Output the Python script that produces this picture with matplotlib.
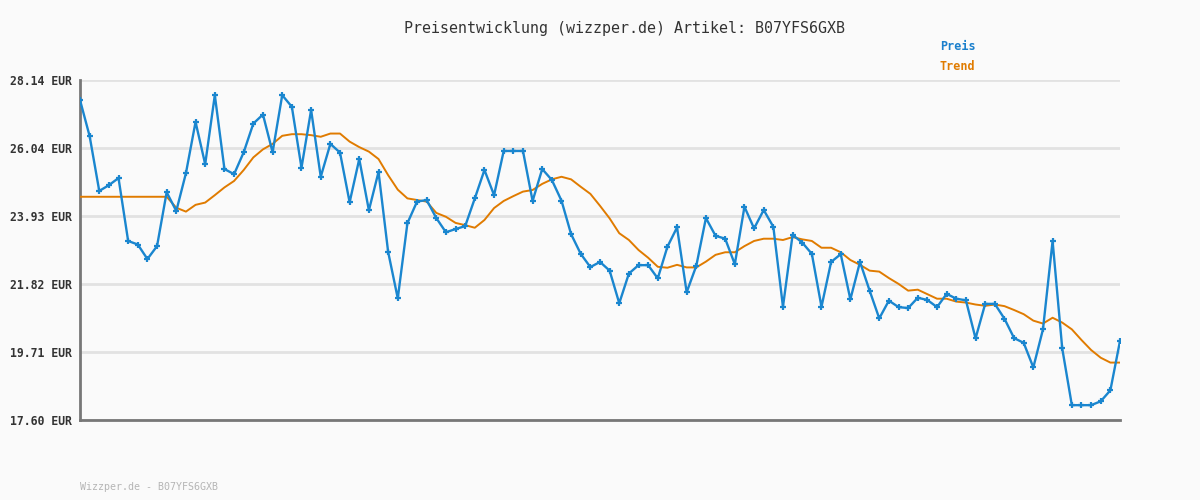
import numpy as np
import matplotlib
matplotlib.use("Agg")
from matplotlib import pyplot as plt

# price points (EUR)
preis = [27.52, 26.40, 24.70, 24.88, 25.10, 23.15, 23.04, 22.59, 22.99, 24.66,
         24.08, 25.25, 26.84, 25.53, 27.67, 25.38, 25.22, 25.90, 26.79, 27.07,
         25.90, 27.67, 27.31, 25.42, 27.21, 25.14, 26.16, 25.89, 24.35, 25.69,
         24.10, 25.29, 22.81, 21.37, 23.70, 24.37, 24.42, 23.86, 23.42, 23.52,
         23.61, 24.47, 25.35, 24.57, 25.94, 25.94, 25.94, 24.39, 25.38, 25.04,
         24.40, 23.36, 22.75, 22.34, 22.50, 22.23, 21.22, 22.14, 22.40, 22.40,
         21.99, 22.97, 23.57, 21.56, 22.38, 23.86, 23.31, 23.22, 22.43, 24.21,
         23.54, 24.11, 23.59, 21.11, 23.34, 23.10, 22.75, 21.11, 22.50, 22.74,
         21.34, 22.50, 21.61, 20.75, 21.30, 21.10, 21.07, 21.39, 21.32, 21.10,
         21.51, 21.36, 21.31, 20.13, 21.20, 21.20, 20.74, 20.14, 19.99, 19.23,
         20.41, 23.15, 19.82, 18.06, 18.06, 18.06, 18.18, 18.52, 20.05]

trend = [24.52, 24.52, 24.52, 24.52, 24.52, 24.52, 24.52, 24.52, 24.52, 24.52,
         24.18, 24.06, 24.27, 24.34, 24.57, 24.81, 25.01, 25.35, 25.74, 25.99,
         26.16, 26.41, 26.46, 26.46, 26.43, 26.38, 26.48, 26.48, 26.23, 26.06,
         25.92, 25.69, 25.19, 24.74, 24.47, 24.42, 24.37, 24.02, 23.90, 23.71,
         23.64, 23.56, 23.80, 24.17, 24.39, 24.54, 24.68, 24.73, 24.92, 25.06,
         25.14, 25.06, 24.83, 24.61, 24.24, 23.85, 23.39, 23.18, 22.87, 22.63,
         22.35, 22.32, 22.41, 22.33, 22.33, 22.51, 22.72, 22.80, 22.80, 22.99,
         23.15, 23.22, 23.22, 23.18, 23.27, 23.20, 23.15, 22.94, 22.94, 22.80,
         22.56, 22.41, 22.23, 22.20, 22.00, 21.82, 21.61, 21.64, 21.50, 21.36,
         21.36, 21.27, 21.24, 21.18, 21.14, 21.18, 21.13, 21.01, 20.88, 20.68,
         20.59, 20.77, 20.62, 20.41, 20.08, 19.77, 19.53, 19.38, 19.38]

yticks = [17.60, 19.71, 21.82, 23.93, 26.04, 28.14]
ylabels = ["%.2f EUR" % v for v in yticks]

artikel = "B07YFS6GXB"
bg = "#fafafa"
blau = "#1a86cf"
orange = "#e07b00"
mono = "DejaVu Sans Mono"

fig = plt.figure(figsize=(12, 5), dpi=100, facecolor=bg)
ax = fig.add_axes([80/1200, 80/500, 1040/1200, 340/500])
ax.set_facecolor(bg)

x = np.arange(len(preis))
ax.plot(x, trend, color=orange, lw=1.4, zorder=3)
ax.plot(x, preis, color=blau, lw=1.7, marker="+", ms=4, mew=1.6, zorder=4)

ax.set_xlim(0, len(preis) - 1)
ax.set_ylim(yticks[0], yticks[-1])
ax.set_yticks(yticks)
ax.set_yticklabels(ylabels, fontfamily=mono, fontsize=8.3, fontweight="bold", color="#333333")
ax.set_xticks([])
ax.tick_params(axis="y", length=0, pad=6)
ax.grid(axis="y", color="#e2e2e2", lw=2)
ax.set_axisbelow(True)
for s in ["top", "right"]:
    ax.spines[s].set_visible(False)
for s in ["left", "bottom"]:
    ax.spines[s].set_color("#777777")
    ax.spines[s].set_linewidth(2)

fig.text(624/1200, 1 - 28/500, "Preisentwicklung (wizzper.de) Artikel: " + artikel,
         ha="center", va="center", fontfamily=mono, fontsize=10.8, color="#333333")
fig.text(940/1200, 1 - 47/500, "Preis", ha="left", va="center", fontfamily=mono,
         fontsize=8.5, fontweight="bold", color="#1a7fcc")
fig.text(940/1200, 1 - 67/500, "Trend", ha="left", va="center", fontfamily=mono,
         fontsize=8.5, fontweight="bold", color=orange)
fig.text(80/1200, 1 - 487/500, "Wizzper.de - " + artikel, ha="left", va="center",
         fontfamily=mono, fontsize=7.2, color="#b5b5b5")

fig.savefig("out.png", dpi=100, facecolor=bg)
